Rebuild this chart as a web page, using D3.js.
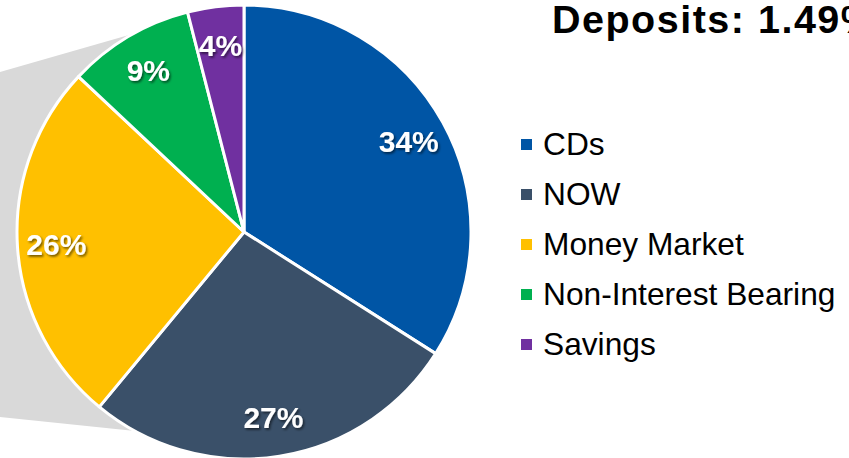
<!DOCTYPE html>
<html>
<head>
<meta charset="utf-8">
<script src="https://cdn.jsdelivr.net/npm/d3@7"></script>
<style>
  html, body { margin: 0; padding: 0; background: #ffffff; overflow: hidden; }
  svg { display: block; }
</style>
</head>
<body>
<svg id="chart" width="849" height="458"></svg>
<script>
// Deposit mix by account type (share of total, %)
const categories = ["CDs", "NOW", "Money Market", "Non-Interest Bearing", "Savings"];
const shares = [34, 27, 26, 9, 4];
const sliceColors = ["#0055A5", "#3A5069", "#FFC000", "#00B050", "#7030A0"];
const titleText = "Deposits: 1.49%";

const width = 849, height = 458;
const cx = 244, cy = 232, radius = 227;

const svg = d3.select("#chart");

// soft shadow under the percentage labels
const defs = svg.append("defs");
const f = defs.append("filter").attr("id", "lblShadow")
  .attr("x", "-20%").attr("y", "-20%").attr("width", "140%").attr("height", "160%");
f.append("feDropShadow")
  .attr("dx", 1.5).attr("dy", 1.8).attr("stdDeviation", 1)
  .attr("flood-color", "#000").attr("flood-opacity", 0.55);

// grey connector band running off the left edge behind the pie
const toXY = (ang, r) => [cx + r * Math.sin(ang), cy - r * Math.cos(ang)];
const topAng = (330.8 / 180) * Math.PI;
const botAng = (208.7 / 180) * Math.PI;
const band = [[0, 72], toXY(topAng, radius), [cx, cy], toXY(botAng, radius), [0, 417]];
svg.append("path")
  .attr("d", d3.line()(band) + "Z")
  .attr("fill", "#D9D9D9");

const pie = d3.pie().sort(null).value(d => d);
const arcs = pie(shares);
const arc = d3.arc().innerRadius(0).outerRadius(radius);
const labelArc = d3.arc().innerRadius(188).outerRadius(188);

const g = svg.append("g").attr("transform", `translate(${cx},${cy})`);

g.selectAll("path.slice")
  .data(arcs)
  .join("path")
  .attr("class", "slice")
  .attr("d", arc)
  .attr("fill", (d, i) => sliceColors[i])
  .attr("stroke", "#ffffff")
  .attr("stroke-width", 3)
  .attr("stroke-linejoin", "round");

g.selectAll("text.pct")
  .data(arcs)
  .join("text")
  .attr("class", "pct")
  .attr("transform", d => `translate(${labelArc.centroid(d)})`)
  .attr("text-anchor", "middle")
  .attr("dy", "0.36em")
  .attr("font-family", "Arial, 'Liberation Sans', sans-serif")
  .attr("font-weight", "bold")
  .attr("font-size", 30)
  .attr("fill", "#ffffff")
  .attr("filter", "url(#lblShadow)")
  .text(d => d.data + "%");

// title (runs past the right edge of the panel)
svg.append("text")
  .attr("x", 552)
  .attr("y", 33)
  .attr("font-family", "Arial, 'Liberation Sans', sans-serif")
  .attr("font-weight", "bold")
  .attr("font-size", 39.5)
  .attr("letter-spacing", 1.5)
  .attr("fill", "#000000")
  .text(titleText);

// legend
const legend = svg.append("g");
const rows = legend.selectAll("g.row")
  .data(categories)
  .join("g")
  .attr("class", "row")
  .attr("transform", (d, i) => `translate(521, ${144.5 + i * 50})`);

rows.append("rect")
  .attr("x", 0).attr("y", -5.5)
  .attr("width", 11).attr("height", 11)
  .attr("fill", (d, i) => sliceColors[i]);

rows.append("text")
  .attr("x", 22)
  .attr("y", 10.5)
  .attr("font-family", "Arial, 'Liberation Sans', sans-serif")
  .attr("font-size", 31.7)
  .attr("fill", "#000000")
  .text(d => d);
</script>
</body>
</html>
